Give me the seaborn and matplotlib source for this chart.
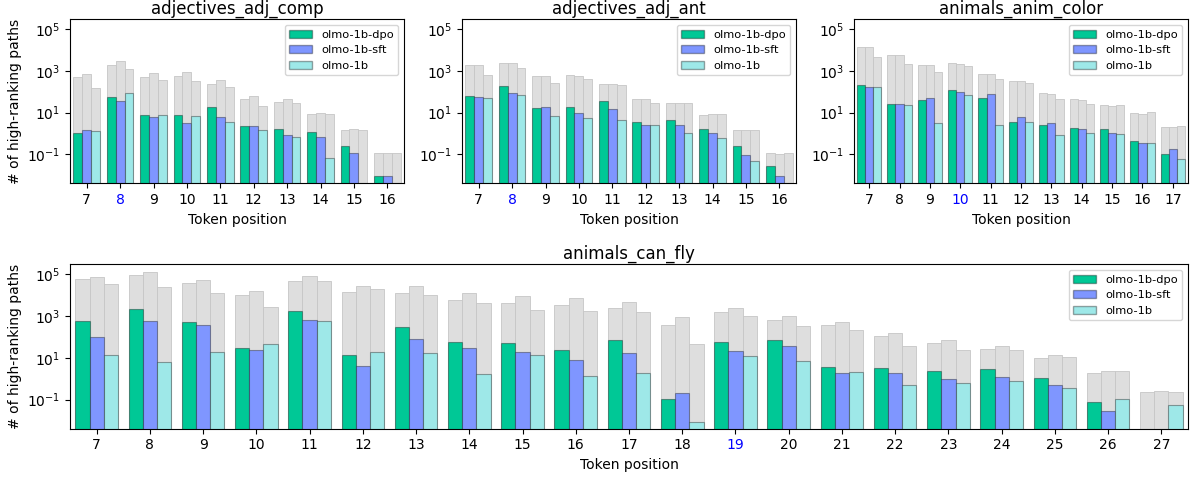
import numpy as np
import pandas as pd
import matplotlib
matplotlib.use("Agg")
import matplotlib.pyplot as plt
import seaborn as sns
from matplotlib.patches import Patch
from matplotlib.ticker import NullLocator

MODELS = ["olmo-1b-dpo", "olmo-1b-sft", "olmo-1b"]
COLORS = ["#00c896", "#7f96ff", "#9ee8e8"]
GRAY = "#dedede"

# adjectives_adj_comp
comp_pos = [7, 8, 9, 10, 11, 12, 13, 14, 15, 16]
comp_total_dpo = [515, 2000, 520, 580, 240, 43, 31, 8.3, 1.45, 0.11]
comp_total_sft = [700, 3100, 800, 900, 370, 64, 43, 10, 1.6, 0.11]
comp_total_base = [155, 1300, 370, 330, 165, 21, 29, 8.3, 1.45, 0.11]
comp_high_dpo = [1.0, 58, 7.4, 7.4, 18.6, 2.2, 1.7, 1.2, 0.26, 0.0093]
comp_high_sft = [1.4, 36, 6.0, 3.3, 5.8, 2.2, 0.8, 0.65, 0.11, 0.0093]
comp_high_base = [1.25, 87, 8.0, 7.2, 3.7, 1.4, 0.64, 0.065, 0, 0]

# adjectives_adj_ant
ant_pos = [7, 8, 9, 10, 11, 12, 13, 14, 15, 16]
ant_total_dpo = [2000, 2300, 540, 650, 240, 43, 29, 7.4, 1.45, 0.11]
ant_total_sft = [2000, 2300, 580, 600, 240, 43, 30, 8.3, 1.45, 0.1]
ant_total_base = [650, 1450, 275, 430, 200, 28, 30, 8.3, 1.45, 0.11]
ant_high_dpo = [65, 195, 16, 18.6, 35, 3.5, 4.3, 1.55, 0.25, 0.028]
ant_high_sft = [58, 90, 18, 9.3, 14, 2.5, 2.4, 1.1, 0.09, 0.0093]
ant_high_base = [48, 72, 6.5, 5.4, 4.2, 2.5, 1.0, 0.57, 0.047, 0]

# animals_anim_color
color_pos = [7, 8, 9, 10, 11, 12, 13, 14, 15, 16, 17]
color_total_dpo = [13500, 6000, 2000, 2400, 740, 345, 87, 43, 22, 9.3, 2.0]
color_total_sft = [13500, 6000, 2000, 2250, 740, 310, 80, 39, 21, 8.3, 2.0]
color_total_base = [4800, 2250, 930, 1800, 415, 270, 47, 26, 22, 10.5, 2.2]
color_high_dpo = [215, 25, 42, 125, 51, 3.7, 2.5, 1.8, 1.55, 0.42, 0.107]
color_high_sft = [172, 25, 48, 100, 77, 5.8, 3.0, 1.55, 1.1, 0.33, 0.17]
color_high_base = [172, 22.5, 3.0, 69, 2.5, 3.7, 0.83, 1.1, 0.93, 0.33, 0.057]

# animals_can_fly
fly_pos = [7, 8, 9, 10, 11, 12, 13, 14, 15, 16, 17, 18, 19, 20, 21, 22, 23, 24, 25, 26, 27]
fly_total_dpo = [62000, 96000, 40000, 10000, 45000, 14000, 13000, 5700, 4000, 3300, 2300,
                 375, 1500, 680, 375, 105, 52, 27, 9.6, 1.95, 0.23]
fly_total_sft = [75000, 134000, 53000, 16000, 87000, 28000, 28000, 13000, 9000, 7100, 4600,
                 850, 2450, 1000, 540, 155, 74, 37, 13, 2.45, 0.26]
fly_total_base = [36000, 25000, 12000, 2750, 48000, 20000, 10700, 4000, 2000, 1800, 1600,
                  47, 1050, 340, 225, 35, 24, 24, 11, 2.2, 0.23]
fly_high_dpo = [600, 2200, 520, 30, 1800, 14, 300, 58, 51, 24, 69,
                0.107, 58, 72, 3.6, 3.4, 2.2, 2.75, 1.1, 0.074, 0]
fly_high_sft = [100, 600, 375, 24, 650, 4.2, 80, 30, 18.5, 7.4, 17,
                0.2, 20, 37, 1.9, 1.9, 0.91, 1.26, 0.47, 0.027, 0]
fly_high_base = [13.7, 6.3, 19, 47, 585, 19, 17, 1.7, 13, 1.4, 1.9,
                 0.0085, 11.5, 7.1, 2.1, 0.47, 0.63, 0.78, 0.36, 0.105, 0.057]


def to_long(pos, dpo, sft, base):
    rows = []
    for m, vals in zip(MODELS, [dpo, sft, base]):
        for p, v in zip(pos, vals):
            rows.append({"pos": p, "model": m, "value": v})
    return pd.DataFrame(rows)


def draw(ax, title, pos, totals, highs, mark, ylabel):
    tot = to_long(pos, *totals)
    hi = to_long(pos, *highs)
    # gray = all paths, coloured = high-ranking ones, drawn on top
    sns.barplot(data=tot, x="pos", y="value", hue="model", hue_order=MODELS, order=pos,
                palette=[GRAY] * 3, saturation=1, errorbar=None, legend=False,
                edgecolor="#c6c6c6", linewidth=0.6, ax=ax)
    sns.barplot(data=hi, x="pos", y="value", hue="model", hue_order=MODELS, order=pos,
                palette=COLORS, saturation=1, errorbar=None, legend=False,
                edgecolor=(0, 0, 0, 0.35), linewidth=0.8, ax=ax)
    ax.set_yscale("log")
    ax.set_ylim(4e-3, 3e5)
    ax.set_yticks([1e-1, 1e1, 1e3, 1e5])
    ax.yaxis.set_minor_locator(NullLocator())
    ax.set_title(title, fontsize=12, pad=4)
    ax.set_xlabel("Token position", fontsize=10)
    ax.set_ylabel("# of high-ranking paths" if ylabel else "", fontsize=10)
    ax.tick_params(labelsize=10)
    for lab in ax.get_xticklabels():
        if lab.get_text() == str(mark):
            lab.set_color("blue")
    handles = [Patch(facecolor=c, edgecolor=(0, 0, 0, 0.35), label=m) for m, c in zip(MODELS, COLORS)]
    ax.legend(handles=handles, loc="upper right", fontsize=8.2)


fig = plt.figure(figsize=(11.94, 4.79), dpi=100)
W, H = 1194, 479
ax1 = fig.add_axes([70 / W, (H - 183.3) / H, 334 / W, 164 / H])
ax2 = fig.add_axes([462 / W, (H - 183.3) / H, 334 / W, 164 / H])
ax3 = fig.add_axes([854 / W, (H - 183.3) / H, 334 / W, 164 / H])
ax4 = fig.add_axes([70 / W, (H - 428.7) / H, 1118 / W, 164.4 / H])

draw(ax1, "adjectives_adj_comp", comp_pos,
     (comp_total_dpo, comp_total_sft, comp_total_base),
     (comp_high_dpo, comp_high_sft, comp_high_base), 8, True)
draw(ax2, "adjectives_adj_ant", ant_pos,
     (ant_total_dpo, ant_total_sft, ant_total_base),
     (ant_high_dpo, ant_high_sft, ant_high_base), 8, False)
draw(ax3, "animals_anim_color", color_pos,
     (color_total_dpo, color_total_sft, color_total_base),
     (color_high_dpo, color_high_sft, color_high_base), 10, False)
draw(ax4, "animals_can_fly", fly_pos,
     (fly_total_dpo, fly_total_sft, fly_total_base),
     (fly_high_dpo, fly_high_sft, fly_high_base), 19, True)

fig.savefig("out.png", dpi=100)
